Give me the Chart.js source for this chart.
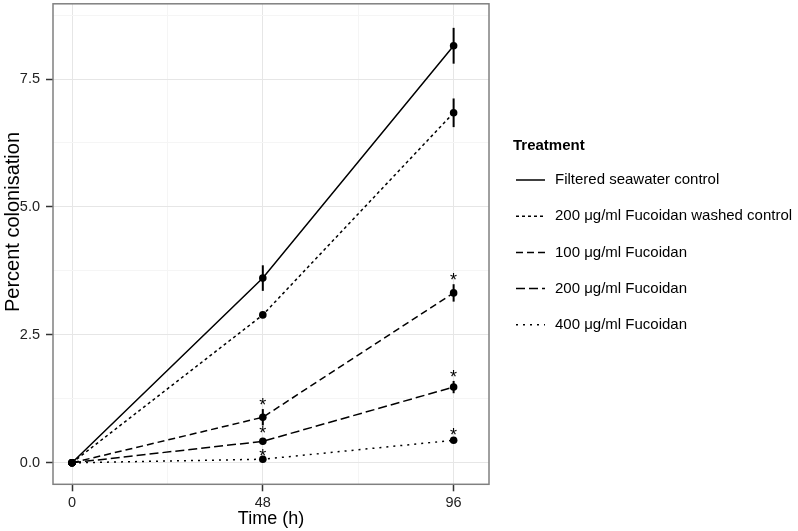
<!DOCTYPE html>
<html><head><meta charset="utf-8">
<script src="https://cdn.jsdelivr.net/npm/chart.js@4/dist/chart.umd.min.js"></script>
<style>html,body{margin:0;padding:0;background:#fff}#wrap{width:798px;height:531px;position:relative}</style>
</head><body><div id="wrap"><canvas id="c"></canvas></div>
<script>
// ---- data ----
const times = [0, 48, 96];
const seriesNames = [
  'Filtered seawater control',
  '200 \u03bcg/ml Fucoidan washed control',
  '100 \u03bcg/ml Fucoidan',
  '200 \u03bcg/ml Fucoidan',
  '400 \u03bcg/ml Fucoidan'
];
const filteredSeawater = [0, 3.61, 8.15];
const washedControl    = [0, 2.89, 6.84];
const fucoidan100      = [0, 0.89, 3.32];
const fucoidan200      = [0, 0.42, 1.48];
const fucoidan400      = [0, 0.07, 0.44];

const filteredSeawaterSE = [0, 0.25, 0.35];
const washedControlSE    = [0, 0.04, 0.28];
const fucoidan100SE      = [0, 0.16, 0.17];
const fucoidan200SE      = [0, 0.06, 0.12];
const fucoidan400SE      = [0, 0.02, 0.04];

// asterisk (significance) label heights, null = no label
const filteredSeawaterStar = [null, null, null];
const washedControlStar    = [null, null, null];
const fucoidan100Star      = [null, 1.19, 3.65];
const fucoidan200Star      = [null, 0.65, 1.74];
const fucoidan400Star      = [null, 0.21, 0.61];

const xTickValues = [0, 48, 96];
const xTickLabels = ['0', '48', '96'];
const xMinorValues = [24, 72];
const yTickValues = [0, 2.5, 5, 7.5];
const yTickLabels = ['0.0', '2.5', '5.0', '7.5'];
const yMinorValues = [1.25, 3.75, 6.25, 8.75];

const axisTitleX = 'Time (h)';
const axisTitleY = 'Percent colonisation';
const legendTitle = 'Treatment';

// ---- styling ----
const seriesValues = [filteredSeawater, washedControl, fucoidan100, fucoidan200, fucoidan400];
const seriesSE = [filteredSeawaterSE, washedControlSE, fucoidan100SE, fucoidan200SE, fucoidan400SE];
const seriesStars = [filteredSeawaterStar, washedControlStar, fucoidan100Star, fucoidan200Star, fucoidan400Star];
const dashes = [[], [3, 3], [7, 4], [9, 4], [2, 5]];
const FONT = '"Liberation Sans", Arial, Helvetica, sans-serif';

const datasets = seriesNames.map((name, s) => ({
  label: name,
  data: times.map((t, i) => ({ x: t, y: seriesValues[s][i] })),
  borderColor: '#000',
  borderWidth: 1.5,
  borderDash: dashes[s],
  pointRadius: 3.8,
  pointHoverRadius: 3.8,
  pointBackgroundColor: '#000',
  pointBorderWidth: 0,
  tension: 0,
  fill: false
}));

function setTicks(scale, majors, minors) {
  scale.ticks = majors.concat(minors).sort((a, b) => a - b).map(v => ({ value: v }));
}
function isMajor(list, v) { return list.some(m => Math.abs(m - v) < 1e-9); }
function noPad(s) { s.paddingTop = 0; s.paddingBottom = 0; s.paddingLeft = 0; s.paddingRight = 0; }

const extras = {
  id: 'extras',
  beforeDatasetsDraw(chart) {
    const { ctx, scales: { x, y } } = chart;
    ctx.save();
    ctx.strokeStyle = '#000';
    ctx.lineWidth = 2;
    ctx.setLineDash([]);
    seriesValues.forEach((vals, s) => {
      vals.forEach((v, i) => {
        const se = seriesSE[s][i];
        if (!se) return;
        const px = x.getPixelForValue(times[i]);
        ctx.beginPath();
        ctx.moveTo(px, y.getPixelForValue(v - se));
        ctx.lineTo(px, y.getPixelForValue(v + se));
        ctx.stroke();
      });
    });
    ctx.restore();
  },
  afterDatasetsDraw(chart) {
    const { ctx, scales: { x, y } } = chart;
    ctx.save();
    ctx.fillStyle = '#000';
    ctx.font = '18px ' + FONT;
    ctx.textAlign = 'center';
    ctx.textBaseline = 'alphabetic';
    const m = ctx.measureText('*');
    const off = (m.actualBoundingBoxAscent - m.actualBoundingBoxDescent) / 2;
    seriesStars.forEach(arr => arr.forEach((v, i) => {
      if (v === null) return;
      ctx.fillText('*', x.getPixelForValue(times[i]), y.getPixelForValue(v) + off);
    }));
    ctx.restore();
  },
  afterDraw(chart) {
    const { ctx, chartArea: a } = chart;
    ctx.save();
    // panel border
    ctx.strokeStyle = '#808080';
    ctx.lineWidth = 1.5;
    ctx.setLineDash([]);
    ctx.strokeRect(a.left, a.top, a.right - a.left, a.bottom - a.top);
    // axis titles
    ctx.fillStyle = '#000';
    ctx.textAlign = 'center';
    ctx.textBaseline = 'middle';
    ctx.font = '18px ' + FONT;
    ctx.fillText(axisTitleX, (a.left + a.right) / 2, 519);
    ctx.save();
    ctx.font = '20px ' + FONT;
    ctx.translate(13, 222);
    ctx.rotate(-Math.PI / 2);
    ctx.fillText(axisTitleY, 0, 0);
    ctx.restore();
    // legend
    ctx.textAlign = 'left';
    ctx.font = 'bold 15px ' + FONT;
    ctx.fillText(legendTitle, 513, 146);
    ctx.font = '15px ' + FONT;
    seriesNames.forEach((name, s) => {
      const ly = 180 + s * 36.2;
      ctx.strokeStyle = '#000';
      ctx.lineWidth = 1.5;
      ctx.setLineDash(dashes[s]);
      ctx.beginPath();
      ctx.moveTo(516, ly);
      ctx.lineTo(545, ly);
      ctx.stroke();
      ctx.setLineDash([]);
      ctx.fillText(name, 555, ly);
    });
    ctx.restore();
  }
};

new Chart(document.getElementById('c'), {
  type: 'line',
  data: { datasets },
  options: {
    responsive: true,
    maintainAspectRatio: false,
    animation: false,
    devicePixelRatio: 1,
    layout: { padding: { top: 1, right: 309, left: 0, bottom: 0 } },
    plugins: { legend: { display: false }, tooltip: { enabled: false } },
    events: [],
    scales: {
      x: {
        type: 'linear',
        min: -4.78, max: 104.9,
        afterBuildTicks: s => setTicks(s, xTickValues, xMinorValues),
        afterFit: s => { s.height = 46.7; noPad(s); },
        border: { display: false },
        grid: {
          color: c => isMajor(xTickValues, c.tick.value) ? '#e6e6e6' : '#f5f5f5',
          tickColor: c => isMajor(xTickValues, c.tick.value) ? '#333' : 'rgba(0,0,0,0)',
          lineWidth: 1, tickLength: 7, tickWidth: 1.5
        },
        ticks: {
          autoSkip: false, maxRotation: 0, padding: 3,
          color: '#222', font: { size: 14.5, family: FONT },
          callback: v => { const k = xTickValues.findIndex(m => Math.abs(m - v) < 1e-9); return k >= 0 ? xTickLabels[k] : ''; }
        }
      },
      y: {
        type: 'linear',
        min: -0.42, max: 8.97,
        afterBuildTicks: s => setTicks(s, yTickValues, yMinorValues),
        afterFit: s => { s.width = 53; noPad(s); },
        border: { display: false },
        grid: {
          color: c => isMajor(yTickValues, c.tick.value) ? '#e6e6e6' : '#f5f5f5',
          tickColor: c => isMajor(yTickValues, c.tick.value) ? '#333' : 'rgba(0,0,0,0)',
          lineWidth: 1, tickLength: 7, tickWidth: 1.5
        },
        ticks: {
          autoSkip: false, padding: 6,
          color: '#222', font: { size: 14.5, family: FONT },
          callback: v => { const k = yTickValues.findIndex(m => Math.abs(m - v) < 1e-9); return k >= 0 ? yTickLabels[k] : ''; }
        }
      }
    }
  },
  plugins: [extras]
});
</script>
</body></html>
